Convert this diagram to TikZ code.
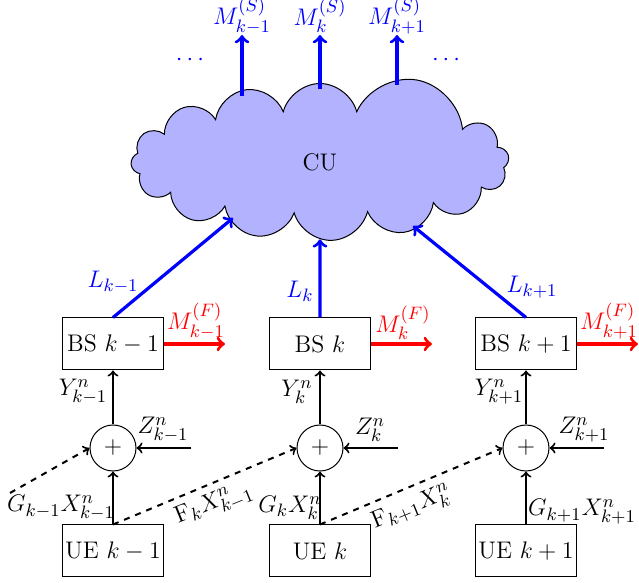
\documentclass[12pt,tikz,border=0pt]{standalone}
\usetikzlibrary{shapes.symbols}
\begin{document}
\begin{tikzpicture}[x=0.5pt,y=-0.5pt,
 box/.style={draw,line width=0.5pt,minimum width=50.5pt,minimum height=26pt,inner sep=0pt},
 adder/.style={draw,line width=0.5pt,circle,minimum size=23pt,inner sep=0pt},
 sig/.style={->,line width=1pt},
 dsig/.style={->,line width=1pt,dashed},
 link/.style={->,line width=1.6pt,blue},
 fwd/.style={->,line width=1.6pt,red},
 lab/.style={inner sep=0pt,font=\fontsize{12.8}{15}\selectfont}]
\useasboundingbox (0,0) rectangle (639,583);
% cloud
\node[cloud, cloud puffs=15.7, cloud ignores aspect, minimum width=189pt, minimum height=78.5pt,
      draw, line width=0.5pt, fill=blue!30, inner sep=0pt] (cu) at (320,162) {CU};
% top outputs
\node[lab,blue] (ms1) at (242,16) {$M^{(S)}_{k-1}$};
\node[lab,blue] (ms2) at (320,16) {$M^{(S)}_{k}$};
\node[lab,blue] (ms3) at (397,16) {$M^{(S)}_{k+1}$};
\coordinate (t1) at (242,96);
\coordinate (t2) at (320,89);
\coordinate (t3) at (397,85);
\draw[link] (t1) -- (242,35);
\draw[link] (t2) -- (320,35);
\draw[link] (t3) -- (397,35);
\node[lab,blue] (d1) at (190,60) {$\cdots$};
\node[lab,blue] (d2) at (446,60) {$\cdots$};
% BS
\node[box] (bs1) at (113,344) {BS $k-1$};
\node[box] (bs2) at (320,344) {BS $k$};
\node[box] (bs3) at (526,344) {BS $k+1$};
% UE
\node[box] (ue1) at (113,551) {UE $k-1$};
\node[box] (ue2) at (320,551) {UE $k$};
\node[box] (ue3) at (526,551) {UE $k+1$};
% adders
\node[adder] (a1) at (113,448) {$+$};
\node[adder] (a2) at (320,448) {$+$};
\node[adder] (a3) at (526,448) {$+$};
% links to CU
\coordinate (c1) at (233,218);
\coordinate (c3) at (413,226);
\draw[link] (bs1.north) -- (c1);
\draw[link] (bs2.north) -- (cu.south);
\draw[link] (bs3.north) -- (c3);
\node[lab,blue] (l1) at (113,282) {$L_{k-1}$};
\node[lab,blue] (l2) at (300,291) {$L_{k}$};
\node[lab,blue] (l3) at (532,287) {$L_{k+1}$};
% forward
\coordinate (f1) at (225,344);
\coordinate (f2) at (432,344);
\coordinate (f3) at (638,344);
\draw[fwd] (bs1.east) -- (f1);
\draw[fwd] (bs2.east) -- (f2);
\draw[fwd] (bs3.east) -- (f3);
\node[lab,red] (mf1) at (196,321) {$M^{(F)}_{k-1}$};
\node[lab,red] (mf2) at (403,323) {$M^{(F)}_{k}$};
\node[lab,red] (mf3) at (609,321) {$M^{(F)}_{k+1}$};
% adders to BS
\draw[sig] (a1.north) -- (bs1.south);
\draw[sig] (a2.north) -- (bs2.south);
\draw[sig] (a3.north) -- (bs3.south);
\node[lab] (y1) at (83,392) {$Y^n_{k-1}$};
\node[lab] (y2) at (297,392) {$Y^n_{k}$};
\node[lab] (y3) at (499,392) {$Y^n_{k+1}$};
% noise
\coordinate (z1) at (191,448);
\coordinate (z2) at (398,448);
\coordinate (z3) at (604,448);
\draw[sig] (z1) -- (a1.east);
\draw[sig] (z2) -- (a2.east);
\draw[sig] (z3) -- (a3.east);
\node[lab] (zl1) at (163,430) {$Z^n_{k-1}$};
\node[lab] (zl2) at (370,430) {$Z^n_{k}$};
\node[lab] (zl3) at (584,430) {$Z^n_{k+1}$};
% UE to adders
\draw[sig] (ue1.north) -- (a1.south);
\draw[sig] (ue2.north) -- (a2.south);
\draw[sig] (ue3.north) -- (a3.south);
\node[lab] (g1) at (61,508) {$G_{k-1}X^n_{k-1}$};
\node[lab] (g2) at (290,508) {$G_{k}X^n_{k}$};
\node[lab] (g3) at (582,512) {$G_{k+1}X^n_{k+1}$};
% cross links
\coordinate (x0) at (10,493);
\draw[dsig] (x0) -- (a1.west);
\draw[dsig] (ue1.north) -- (a2.west);
\draw[dsig] (ue2.north) -- (a3.west);
\node[lab,rotate=22] (fl1) at (214,505) {$\mathrm{F}_{k}X^n_{k-1}$};
\node[lab,rotate=22] (fl2) at (412,508) {$\mathrm{F}_{k+1}X^n_{k}$};
\end{tikzpicture}
\end{document}
